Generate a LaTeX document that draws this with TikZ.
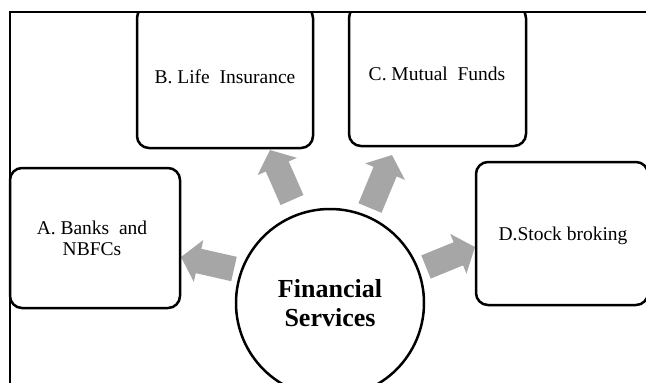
\documentclass[tikz,border=0pt]{standalone}
\usepackage{fontspec}
\setmainfont{Liberation Serif}
\usetikzlibrary{arrows.meta}
\definecolor{arrowgrey}{RGB}{166,166,166}
\tikzset{
  svcbox/.style={draw=black, line width=2.5pt, rounded corners=12pt, inner sep=0pt},
  svctext/.style={inner sep=0pt, font=\fontsize{19.5}{21}\selectfont, align=center},
  blockarrow/.style={draw=arrowgrey, line width=25pt, -{Triangle[width=42pt,length=18pt]}},
}
\begin{document}
\begin{tikzpicture}[x=1pt,y=-1pt]
\useasboundingbox (0,0) rectangle (646,383);
% arrows
\coordinate (a0) at (234,269); \coordinate (a1) at (181,257);
\coordinate (b0) at (292,200); \coordinate (b1) at (270,150);
\coordinate (c0) at (370,208); \coordinate (c1) at (392,155);
\coordinate (d0) at (426,267); \coordinate (d1) at (475,247);
\draw[blockarrow] (a0) -- (a1);
\draw[blockarrow] (b0) -- (b1);
\draw[blockarrow] (c0) -- (c1);
\draw[blockarrow] (d0) -- (d1);
% boxes
\begin{scope}
\clip (0,12) rectangle (660,400);
\node[svcbox, minimum width=170pt, minimum height=140pt] (boxA) at (95,238) {};
\node[svcbox, minimum width=176pt, minimum height=142pt] (boxB) at (225,77) {};
\node[svcbox, minimum width=177pt, minimum height=140pt] (boxC) at (437.5,76) {};
\node[svcbox, minimum width=172pt, minimum height=143pt] (boxD) at (562,233.5) {};
\end{scope}
\node[svctext, anchor=center] (tA) at (92,238) {A. Banks\ \ and\\NBFCs};
\node[svctext, anchor=base] (tB) at (225,83) {B. Life\ \ Insurance};
\node[svctext, anchor=base] (tC) at (437,80) {C. Mutual\ \ Funds};
\node[svctext, anchor=base] (tD) at (563,240) {D.Stock broking};
% central circle
\node[draw=black, line width=2.5pt, circle, minimum size=188pt, inner sep=0pt,
      font=\fontsize{26}{29}\selectfont\bfseries, align=center] (fs) at (330,303) {Financial\\Services};
% frame
\draw[line width=2pt] (10,390) -- (10,12) -- (650,12);
\end{tikzpicture}
\end{document}
